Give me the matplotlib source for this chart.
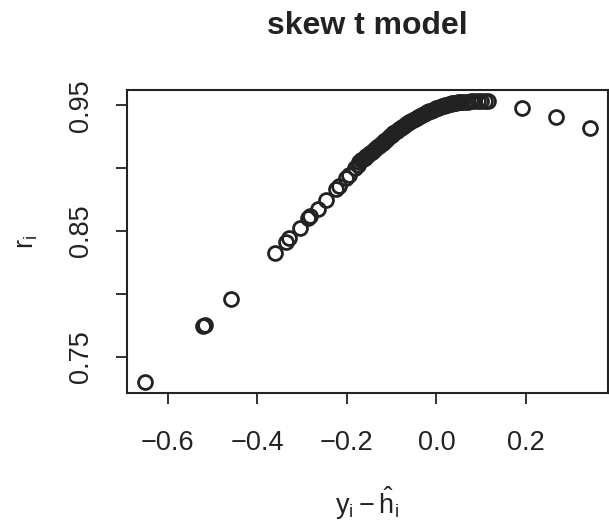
import numpy as np
import matplotlib
matplotlib.use("Agg")
import matplotlib.pyplot as plt

# residuals y_i - h_i (x) and r_i (y)
# sparse lower tail
tail_x = [-0.651, -0.521, -0.517, -0.459, -0.361, -0.336, -0.328, -0.305,
          -0.286, -0.281, -0.265, -0.247, -0.224, -0.218, -0.201, -0.196,
          -0.182, -0.176]
tail_y = [0.730, 0.7745, 0.7755, 0.796, 0.8325, 0.8415, 0.8445, 0.8526,
          0.8600, 0.8620, 0.8677, 0.8750, 0.8835, 0.8860, 0.8925, 0.8945,
          0.9000, 0.9025]
# dense middle band
band_x = [-0.172, -0.168, -0.164, -0.160, -0.156, -0.152, -0.148, -0.144,
          -0.140, -0.136, -0.132, -0.128, -0.124, -0.120, -0.116, -0.112,
          -0.108, -0.104, -0.100, -0.096, -0.092, -0.088, -0.084, -0.080,
          -0.076, -0.072, -0.068, -0.064, -0.060, -0.056, -0.052, -0.048,
          -0.044, -0.040, -0.036, -0.032, -0.028, -0.024, -0.020, -0.016,
          -0.012, -0.008, -0.004, 0.000, 0.004, 0.008, 0.012, 0.016,
          0.020, 0.024, 0.028, 0.032, 0.036, 0.040, 0.044, 0.048,
          0.053, 0.058, 0.064, 0.070, 0.077, 0.084, 0.092, 0.100,
          0.108, 0.116]
band_y = [0.9050, 0.9061, 0.9072, 0.9084, 0.9095, 0.9107, 0.9118, 0.9130,
          0.9141, 0.9154, 0.9166, 0.9178, 0.9190, 0.9202, 0.9215, 0.9227,
          0.9240, 0.9252, 0.9264, 0.9276, 0.9287, 0.9298, 0.9308, 0.9318,
          0.9328, 0.9338, 0.9347, 0.9356, 0.9366, 0.9375, 0.9384, 0.9392,
          0.9401, 0.9409, 0.9417, 0.9424, 0.9431, 0.9438, 0.9445, 0.9452,
          0.9458, 0.9464, 0.9470, 0.9476, 0.9482, 0.9488, 0.9493, 0.9497,
          0.9501, 0.9505, 0.9508, 0.9511, 0.9514, 0.9517, 0.9520, 0.9522,
          0.9524, 0.9526, 0.9528, 0.9529, 0.9530, 0.9531, 0.9532, 0.9532,
          0.9532, 0.9532]
# upper tail
upper_x = [0.191, 0.267, 0.343]
upper_y = [0.948, 0.9405, 0.932]

resid = tail_x + band_x + upper_x
r = tail_y + band_y + upper_y

xticks = [-0.6, -0.4, -0.2, 0.0, 0.2]
xtick_labels = ["\u22120.6", "\u22120.4", "\u22120.2", "0.0", "0.2"]
yticks = [0.75, 0.80, 0.85, 0.90, 0.95]
ytick_labels = ["0.75", "", "0.85", "", "0.95"]

plt.rcParams['font.family'] = ['Liberation Sans', 'DejaVu Sans']
plt.rcParams['mathtext.fontset'] = 'custom'
plt.rcParams['mathtext.rm'] = 'Liberation Sans'
plt.rcParams['mathtext.it'] = 'Liberation Sans'
plt.rcParams['mathtext.default'] = 'regular'

ink = '#222222'

fig = plt.figure(figsize=(6.09, 5.31), dpi=100)
ax = fig.add_axes([0.2085, 0.2599, 0.7895, 0.5706])

ax.plot(resid, r, linestyle='none', marker='o', markersize=10,
        markerfacecolor='none', markeredgecolor=ink, markeredgewidth=2)
ax.margins(x=0.04, y=0.04)

ax.set_xticks(xticks)
ax.set_xticklabels(xtick_labels)
ax.set_yticks(yticks)
ax.set_yticklabels(ytick_labels, rotation=90, va='center')

ax.tick_params(axis='both', direction='out', length=8, width=1.3,
               colors=ink, labelsize=19.5)
ax.tick_params(axis='x', pad=19)
ax.tick_params(axis='y', pad=16)
for s in ax.spines.values():
    s.set_linewidth(1.5)
    s.set_color(ink)

ax.set_title("skew t model", fontsize=23, fontweight='bold', color=ink, pad=40)
ax.set_xlabel(r"$y_i - \hat{h}_i$", fontsize=19.5, color=ink, labelpad=20)
ax.set_ylabel(r"$r_i$", fontsize=19.5, color=ink, labelpad=20)

fig.savefig("out.png", dpi=100, facecolor='white')
